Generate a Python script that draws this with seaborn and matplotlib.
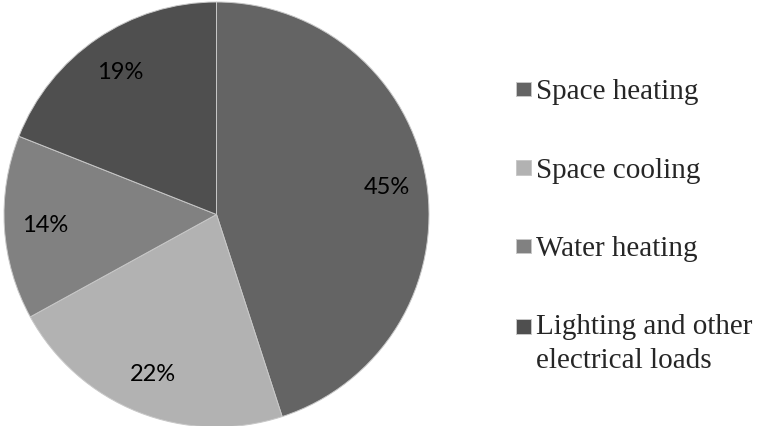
import matplotlib
matplotlib.use("Agg")
import matplotlib.pyplot as plt
from matplotlib.patches import Rectangle
from matplotlib.legend_handler import HandlerPatch
import seaborn as sns

# Residential end-use energy shares
categories = ["Space heating", "Space cooling", "Water heating",
              "Lighting and other\nelectrical loads"]
shares = [45, 22, 14, 19]
colors = ["#646464", "#b2b2b2", "#818181", "#4f4f4f"]

sns.set_theme(style="white")
plt.rcParams["font.family"] = ["Lato", "DejaVu Sans"]

LEGEND_SIZE = 21
LINE_SPACING = 1.35

fig = plt.figure(figsize=(7.57, 4.26), dpi=100)
ax = fig.add_axes([4 / 757, -1 / 426, 425 / 757, 425 / 426])

wedges, texts, autotexts = ax.pie(
    shares,
    colors=colors,
    startangle=90,
    counterclock=False,
    autopct="%.0f%%",
    pctdistance=0.81,
    wedgeprops=dict(edgecolor="#c8c8c8", linewidth=0.7),
    textprops=dict(fontsize=17, color="black"),
)
ax.set_xlim(-1, 1)
ax.set_ylim(-1, 1)
ax.set_aspect("equal")


def square_handler(n_lines):
    """Small square key, aligned with the first line of its label."""
    def make(legend, orig_handle, xdescent, ydescent, width, height, fontsize):
        side = 10.5
        lift = (n_lines - 1) * 0.5 * LINE_SPACING * 0.9 * fontsize
        return Rectangle((0, 2.0 + lift), side, side)
    return HandlerPatch(patch_func=make)


handler_map = {w: square_handler(lbl.count("\n") + 1)
               for w, lbl in zip(wedges, categories)}

leg = ax.legend(
    wedges, categories,
    loc="upper left",
    bbox_to_anchor=(516 / 757, (426 - 79) / 426),
    bbox_transform=fig.transFigure,
    frameon=False,
    prop=dict(family="Liberation Serif", size=LEGEND_SIZE),
    handlelength=0.5, handleheight=0.5,
    handletextpad=0.2,
    labelspacing=1.8,
    borderpad=0, borderaxespad=0,
    handler_map=handler_map,
)
for t in leg.get_texts():
    t.set_linespacing(LINE_SPACING)

fig.savefig("out.png", dpi=100, facecolor="white")
